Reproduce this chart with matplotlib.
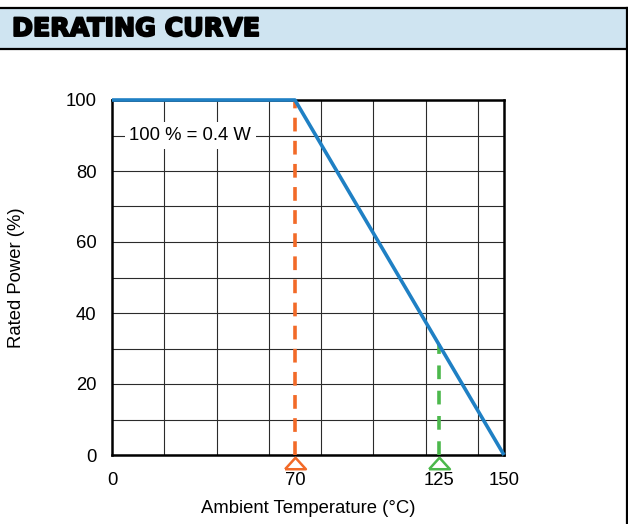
#!/usr/bin/env python3
"""Derating curve: rated power vs ambient temperature."""

import matplotlib
matplotlib.use("Agg")
import matplotlib.pyplot as plt
from matplotlib.ticker import MultipleLocator
from matplotlib.lines import Line2D
import matplotlib.patheffects as pe

plt.rcParams['font.family'] = ['Liberation Sans', 'DejaVu Sans']

# Data
curve_temp = [0, 70, 150]
curve_power = [100, 100, 0]
knee_temp = 70
max_temp = 125
x_tick_values = [0, 70, 125, 150]
y_tick_values = [0, 20, 40, 60, 80, 100]
note_text = '100 % = 0.4 W'
title_text = 'DERATING CURVE'

BLUE = '#1f80c4'
ORANGE = '#f26a28'
GREEN = '#4cb84c'
HEADER_FILL = '#cfe4f1'
FS = 13.3


def power_at(t):
    # read power off the derating line
    for (t0, p0), (t1, p1) in zip(zip(curve_temp, curve_power),
                                  zip(curve_temp[1:], curve_power[1:])):
        if t0 <= t <= t1:
            return p0 + (p1 - p0) * (t - t0) / (t1 - t0)
    return 0


def main():
    fig = plt.figure(figsize=(6.28, 5.24), dpi=100)

    # Header band
    fig.patches.append(plt.Rectangle((0, 1 - 49 / 524), 1, 42 / 524,
                                     transform=fig.transFigure,
                                     facecolor=HEADER_FILL, edgecolor='none'))
    for yy in (1 - 8 / 524, 1 - 49 / 524):
        fig.add_artist(Line2D([0, 1], [yy, yy], transform=fig.transFigure,
                              color='black', lw=1.6))
    fig.add_artist(Line2D([626.5 / 628, 626.5 / 628], [0, 1 - 8 / 524],
                          transform=fig.transFigure, color='black', lw=1.6))
    fig.text(12 / 628, 1 - 29 / 524, title_text, ha='left', va='center',
             fontsize=18.2, fontweight='heavy', color='black',
             family='DejaVu Sans',
             path_effects=[pe.withStroke(linewidth=1.4, foreground='black')])

    ax = fig.add_axes([112 / 628, 69 / 524, 392 / 628, 355 / 524])

    # Curve
    ax.plot(curve_temp, curve_power, color=BLUE, lw=2.6, zorder=4,
            solid_capstyle='butt', clip_on=False)

    # Dashed markers
    ax.plot([knee_temp, knee_temp], [0, power_at(knee_temp)], color=ORANGE,
            lw=2.6, ls=(0, (3.8, 2.6)), zorder=3)
    ax.plot([max_temp, max_temp], [0, power_at(max_temp)], color=GREEN,
            lw=2.6, ls=(0, (3.8, 3.2)), zorder=3)

    tri = [(-1.0, -0.55), (1.0, -0.55), (0.0, 0.55), (-1.0, -0.55)]
    trans = ax.get_xaxis_transform()
    for t, c in ((knee_temp, ORANGE), (max_temp, GREEN)):
        ax.plot([t], [-0.022], marker=tri, markersize=15, markerfacecolor='white',
                markeredgecolor=c, markeredgewidth=1.8, transform=trans,
                clip_on=False, zorder=5)

    # Note
    ax.text(30, 90, note_text, ha='center', va='center', fontsize=FS,
            zorder=5, bbox=dict(boxstyle='square,pad=0.25', facecolor='white',
                                edgecolor='none'))

    # Axes
    ax.set_xlim(0, 150)
    ax.set_ylim(0, 100)
    ax.set_xticks(x_tick_values)
    ax.set_yticks(y_tick_values)
    ax.xaxis.set_minor_locator(MultipleLocator(20))
    ax.yaxis.set_minor_locator(MultipleLocator(10))
    ax.tick_params(which='both', length=0)
    ax.tick_params(axis='x', labelsize=FS, pad=12)
    ax.tick_params(axis='y', labelsize=FS, pad=11)

    ax.xaxis.grid(True, which='minor', color='#2b2b2b', lw=0.8)
    ax.yaxis.grid(True, which='both', color='#2b2b2b', lw=0.8)
    ax.set_axisbelow(True)

    for spine in ax.spines.values():
        spine.set_color('black')
        spine.set_linewidth(1.8)

    ax.set_xlabel('Ambient Temperature (°C)', fontsize=FS)
    ax.set_ylabel('Rated Power (%)', fontsize=FS)
    ax.xaxis.set_label_coords(0.5, -0.127)
    ax.yaxis.set_label_coords(-0.222, 0.5)

    fig.savefig('out.png', dpi=100, facecolor='white')


if __name__ == '__main__':
    main()
